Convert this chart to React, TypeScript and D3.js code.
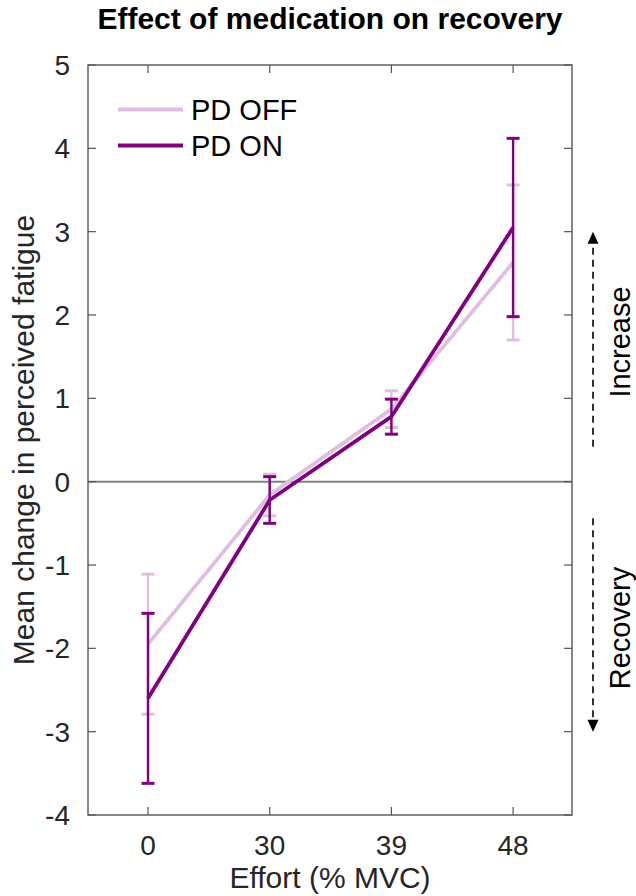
import React from "react";
import * as d3 from "d3";

const efforts = ["0", "30", "39", "48"];
const offMean = [-1.95, -0.16, 0.87, 2.63];
const offErr = [0.84, 0.25, 0.22, 0.93];
const onMean = [-2.6, -0.22, 0.78, 3.05];
const onErr = [1.02, 0.28, 0.21, 1.07];
const yTicks = [-4, -3, -2, -1, 0, 1, 2, 3, 4, 5];
const seriesNames = ["PD OFF", "PD ON"];
const seriesColors = ["#dfbfdf", "#800080"];
const increaseRange = [0.42, 3.0];
const recoveryRange = [-0.44, -3.0];

const W = 636;
const H = 896;
const L = 88, R = 572, T = 65, B = 815;
const FONT = "'Liberation Sans', Arial, Helvetica, sans-serif";

export default function App() {
  const x = d3.scaleLinear().domain([0.507, 4.484]).range([L, R]);
  const y = d3.scaleLinear().domain([-4, 5]).range([B, T]);
  const line = d3
    .line<number>()
    .x((_, i) => x(i + 1))
    .y((d) => y(d));
  const series = [
    { name: seriesNames[0], mean: offMean, err: offErr, color: seriesColors[0] },
    { name: seriesNames[1], mean: onMean, err: onErr, color: seriesColors[1] },
  ];
  const axisColor = "#555";
  const tickLen = 8;
  const capHalf = 6.5;
  const arrowX = 593;

  const arrow = (from: number, to: number, key: string) => {
    const y0 = y(from);
    const y1 = y(to);
    const dir = y1 < y0 ? -1 : 1;
    const headLen = 12;
    const headHalf = 5.5;
    return (
      <g key={key}>
        <line
          x1={arrowX}
          x2={arrowX}
          y1={y0}
          y2={y1 - dir * headLen}
          stroke="#000"
          strokeWidth={1.6}
          strokeDasharray="7,5"
        />
        <path
          d={`M${arrowX},${y1} L${arrowX - headHalf},${y1 - dir * headLen} L${arrowX + headHalf},${y1 - dir * headLen} Z`}
          fill="#000"
        />
      </g>
    );
  };

  return (
    <svg
      width={W}
      height={H}
      style={{ position: "absolute", left: 0, top: 0, background: "#fff" }}
      fontFamily={FONT}
    >
      <rect x={0} y={0} width={W} height={H} fill="#fff" />
      {/* title */}
      <text x={(L + R) / 2} y={29} textAnchor="middle" fontSize={30} fontWeight="bold" fill="#000">
        Effect of medication on recovery
      </text>

      {/* zero line */}
      <line x1={L} x2={R} y1={y(0)} y2={y(0)} stroke="#808080" strokeWidth={2} />

      {/* series */}
      {series.map((s) => (
        <g key={s.name}>
          <path d={line(s.mean) || ""} fill="none" stroke={s.color} strokeWidth={3.8} />
          {s.mean.map((m, i) => {
            const cx = x(i + 1);
            const top = y(m + s.err[i]);
            const bot = y(m - s.err[i]);
            return (
              <g key={i}>
                <line x1={cx} x2={cx} y1={top} y2={bot} stroke={s.color} strokeWidth={2.4} />
                <line x1={cx - capHalf} x2={cx + capHalf} y1={top} y2={top} stroke={s.color} strokeWidth={3} />
                <line x1={cx - capHalf} x2={cx + capHalf} y1={bot} y2={bot} stroke={s.color} strokeWidth={3} />
              </g>
            );
          })}
        </g>
      ))}

      {/* axes box */}
      <rect x={L} y={T} width={R - L} height={B - T} fill="none" stroke={axisColor} strokeWidth={1.4} />
      {yTicks.map((t) => (
        <g key={"y" + t}>
          <line x1={L} x2={L + tickLen} y1={y(t)} y2={y(t)} stroke={axisColor} strokeWidth={1.2} />
          <line x1={R} x2={R - tickLen} y1={y(t)} y2={y(t)} stroke={axisColor} strokeWidth={1.2} />
          <text x={70} y={y(t) + 10} textAnchor="end" fontSize={28} fill="#262626">
            {t}
          </text>
        </g>
      ))}
      {efforts.map((e, i) => (
        <g key={"x" + e}>
          <line x1={x(i + 1)} x2={x(i + 1)} y1={B} y2={B - tickLen} stroke={axisColor} strokeWidth={1.2} />
          <line x1={x(i + 1)} x2={x(i + 1)} y1={T} y2={T + tickLen} stroke={axisColor} strokeWidth={1.2} />
          <text x={x(i + 1)} y={855} textAnchor="middle" fontSize={28} fill="#262626">
            {e}
          </text>
        </g>
      ))}

      {/* axis labels */}
      <text x={(L + R) / 2} y={888} textAnchor="middle" fontSize={30} fill="#262626">
        Effort (% MVC)
      </text>
      <text
        transform={`translate(34,${(T + B) / 2}) rotate(-90)`}
        textAnchor="middle"
        fontSize={30}
        fill="#262626"
      >
        Mean change in perceived fatigue
      </text>

      {/* legend */}
      {series.map((s, i) => (
        <g key={"leg" + i}>
          <line x1={118} x2={183} y1={109.5 + i * 36} y2={109.5 + i * 36} stroke={s.color} strokeWidth={3.8} />
          <text x={191} y={120 + i * 36} fontSize={29} fill="#000">
            {s.name}
          </text>
        </g>
      ))}

      {/* right annotations */}
      {arrow(increaseRange[0], increaseRange[1], "inc")}
      {arrow(recoveryRange[0], recoveryRange[1], "rec")}
      <text transform={`translate(630,342) rotate(-90)`} textAnchor="middle" fontSize={29} fill="#000">
        Increase
      </text>
      <text transform={`translate(630,628) rotate(-90)`} textAnchor="middle" fontSize={29} fill="#000">
        Recovery
      </text>
    </svg>
  );
}
